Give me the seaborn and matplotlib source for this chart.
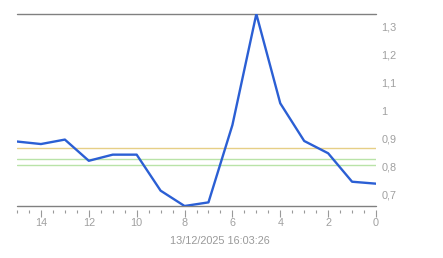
import matplotlib
matplotlib.use("Agg")
import matplotlib.pyplot as plt
import seaborn as sns
import pandas as pd
import numpy as np
from matplotlib.ticker import FixedLocator, MultipleLocator, FuncFormatter

minutes_ago = [15, 14, 13, 12, 11, 10, 9, 8, 7, 6, 5, 4, 3, 2, 1, 0]
values = [0.889, 0.880, 0.896, 0.820, 0.842, 0.842, 0.713, 0.658, 0.671, 0.948,
          1.346, 1.026, 0.891, 0.847, 0.745, 0.738]
ref_lines = [0.865, 0.825, 0.805]
ref_colors = ["#e6cf86", "#b9e3a8", "#b9e3a8"]
y_ticks = [0.7, 0.8, 0.9, 1.0, 1.1, 1.2, 1.3]
x_ticks = [14, 12, 10, 8, 6, 4, 2, 0]
timestamp = "13/12/2025 16:03:26"

sns.set_theme(style="white")
plt.rcParams['font.family'] = ['Liberation Sans', 'DejaVu Sans']

df = pd.DataFrame({"t": minutes_ago, "v": values})

fig = plt.figure(figsize=(4.43, 2.58), dpi=100)
ax = fig.add_axes([17/443, 1 - 206/258, (376-17)/443, (206-14)/258])

for yv, c in zip(ref_lines, ref_colors):
    ax.axhline(yv, color=c, lw=1.0, zorder=1)

sns.lineplot(data=df, x="t", y="v", ax=ax, color="#2b5fd4", lw=1.7, zorder=3)

ax.set_xlim(15, 0)
vmin, vmax = min(values), max(values)
ax.set_ylim(vmin, vmax)

ax.axhline(vmax, color="#808080", lw=1.0, zorder=2, clip_on=False)
ax.axhline(vmin, color="#808080", lw=1.0, zorder=2, clip_on=False)

for s in ax.spines.values():
    s.set_visible(False)
ax.spines['bottom'].set_position(('outward', 3))

ax.xaxis.set_major_locator(FixedLocator(x_ticks))
ax.xaxis.set_minor_locator(MultipleLocator(0.5))
ax.tick_params(axis='x', which='major', length=5, width=0.8, color="#999999",
               labelsize=7.8, labelcolor="#a0a0a0", pad=1, bottom=True)
ax.tick_params(axis='x', which='minor', length=2, width=0.8, color="#999999", bottom=True)

ax.yaxis.tick_right()
ax.set_yticks(y_ticks)
ax.yaxis.set_major_formatter(FuncFormatter(
    lambda v, p: ("%g" % round(v, 1)).replace(".", ",")))
ax.tick_params(axis='y', length=0, labelsize=7.8, labelcolor="#a0a0a0", pad=4)

ax.set_xlabel("")
ax.set_ylabel("")
ax.grid(False)

fig.text(220/443, 1 - 241/258, timestamp, ha="center", va="center",
         fontsize=7.8, color="#999999")

fig.savefig("out.png", dpi=100)
